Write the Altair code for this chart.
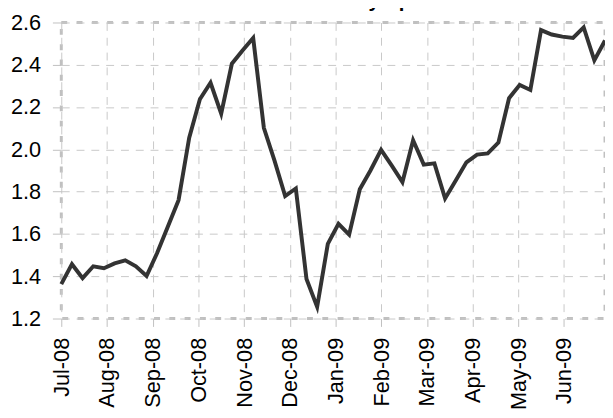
import altair as alt
import pandas as pd

# ---- data ----
title_text = "10-Year and 2-Year Treasury Spread"
month_labels = ["Jul-08", "Aug-08", "Sep-08", "Oct-08", "Nov-08", "Dec-08",
                "Jan-09", "Feb-09", "Mar-09", "Apr-09", "May-09", "Jun-09"]
weeks_per_month = 4.287  # spacing of month labels measured in weekly points
spread = [1.363, 1.457, 1.391, 1.447, 1.438, 1.461, 1.475, 1.447, 1.401, 1.511,
          1.635, 1.760, 2.055, 2.237, 2.315, 2.169, 2.405, 2.468, 2.527, 2.102,
          1.947, 1.779, 1.815, 1.387, 1.255, 1.553, 1.648, 1.597, 1.811, 1.900,
          1.998, 1.923, 1.845, 2.043, 1.928, 1.934, 1.768, 1.853, 1.939, 1.975,
          1.981, 2.032, 2.242, 2.305, 2.281, 2.564, 2.543, 2.533, 2.527, 2.577,
          2.421, 2.515]
y_ticks = [1.2, 1.4, 1.6, 1.8, 2.0, 2.2, 2.4, 2.6]

df = pd.DataFrame({"week": list(range(len(spread))), "spread": spread})

tick_values = [round(i * weeks_per_month, 3) for i in range(len(month_labels))]
label_array = "[" + ",".join("'%s'" % m for m in month_labels) + "]"
label_expr = label_array + "[round(datum.value / %s)]" % weeks_per_month

FONT = "Liberation Sans"

chart = alt.Chart(df).mark_line(color="#333333", strokeWidth=4).encode(
    x=alt.X("week:Q",
            scale=alt.Scale(domain=[0, len(spread) - 1], nice=False, zero=False),
            axis=alt.Axis(values=tick_values, labelExpr=label_expr, labelAngle=270,
                          title=None, tickSize=8, labelPadding=11,
                          gridDash=[8, 7], labelOverlap=False)),
    y=alt.Y("spread:Q",
            scale=alt.Scale(domain=[1.2, 2.6], nice=False, zero=False),
            axis=alt.Axis(values=y_ticks, format=".1f", title=None, tickSize=9,
                          labelPadding=12, gridDash=[8, 7])),
).properties(
    width=551,
    height=300,
    autosize=alt.AutoSizeParams(type="none"),
    padding={"left": 54, "top": 12, "right": 0, "bottom": 90},
    title=alt.TitleParams(title_text, font=FONT, fontSize=20.5, fontWeight="bold",
                          color="#000000", anchor="middle", dx=-52, offset=0,
                          dy=16, baseline="alphabetic"),
).configure_axis(
    labelFont=FONT,
    labelFontSize=22,
    labelColor="#000000",
    tickColor="#c0c0c0",
    tickWidth=1,
    domain=False,
    gridColor="#c8c8c8",
    gridWidth=1,
).configure_view(
    stroke="#c0c0c0",
    strokeWidth=3,
    strokeDash=[6, 9.5],
)

chart.save("out.html", embed_options={"renderer": "svg", "actions": False})
